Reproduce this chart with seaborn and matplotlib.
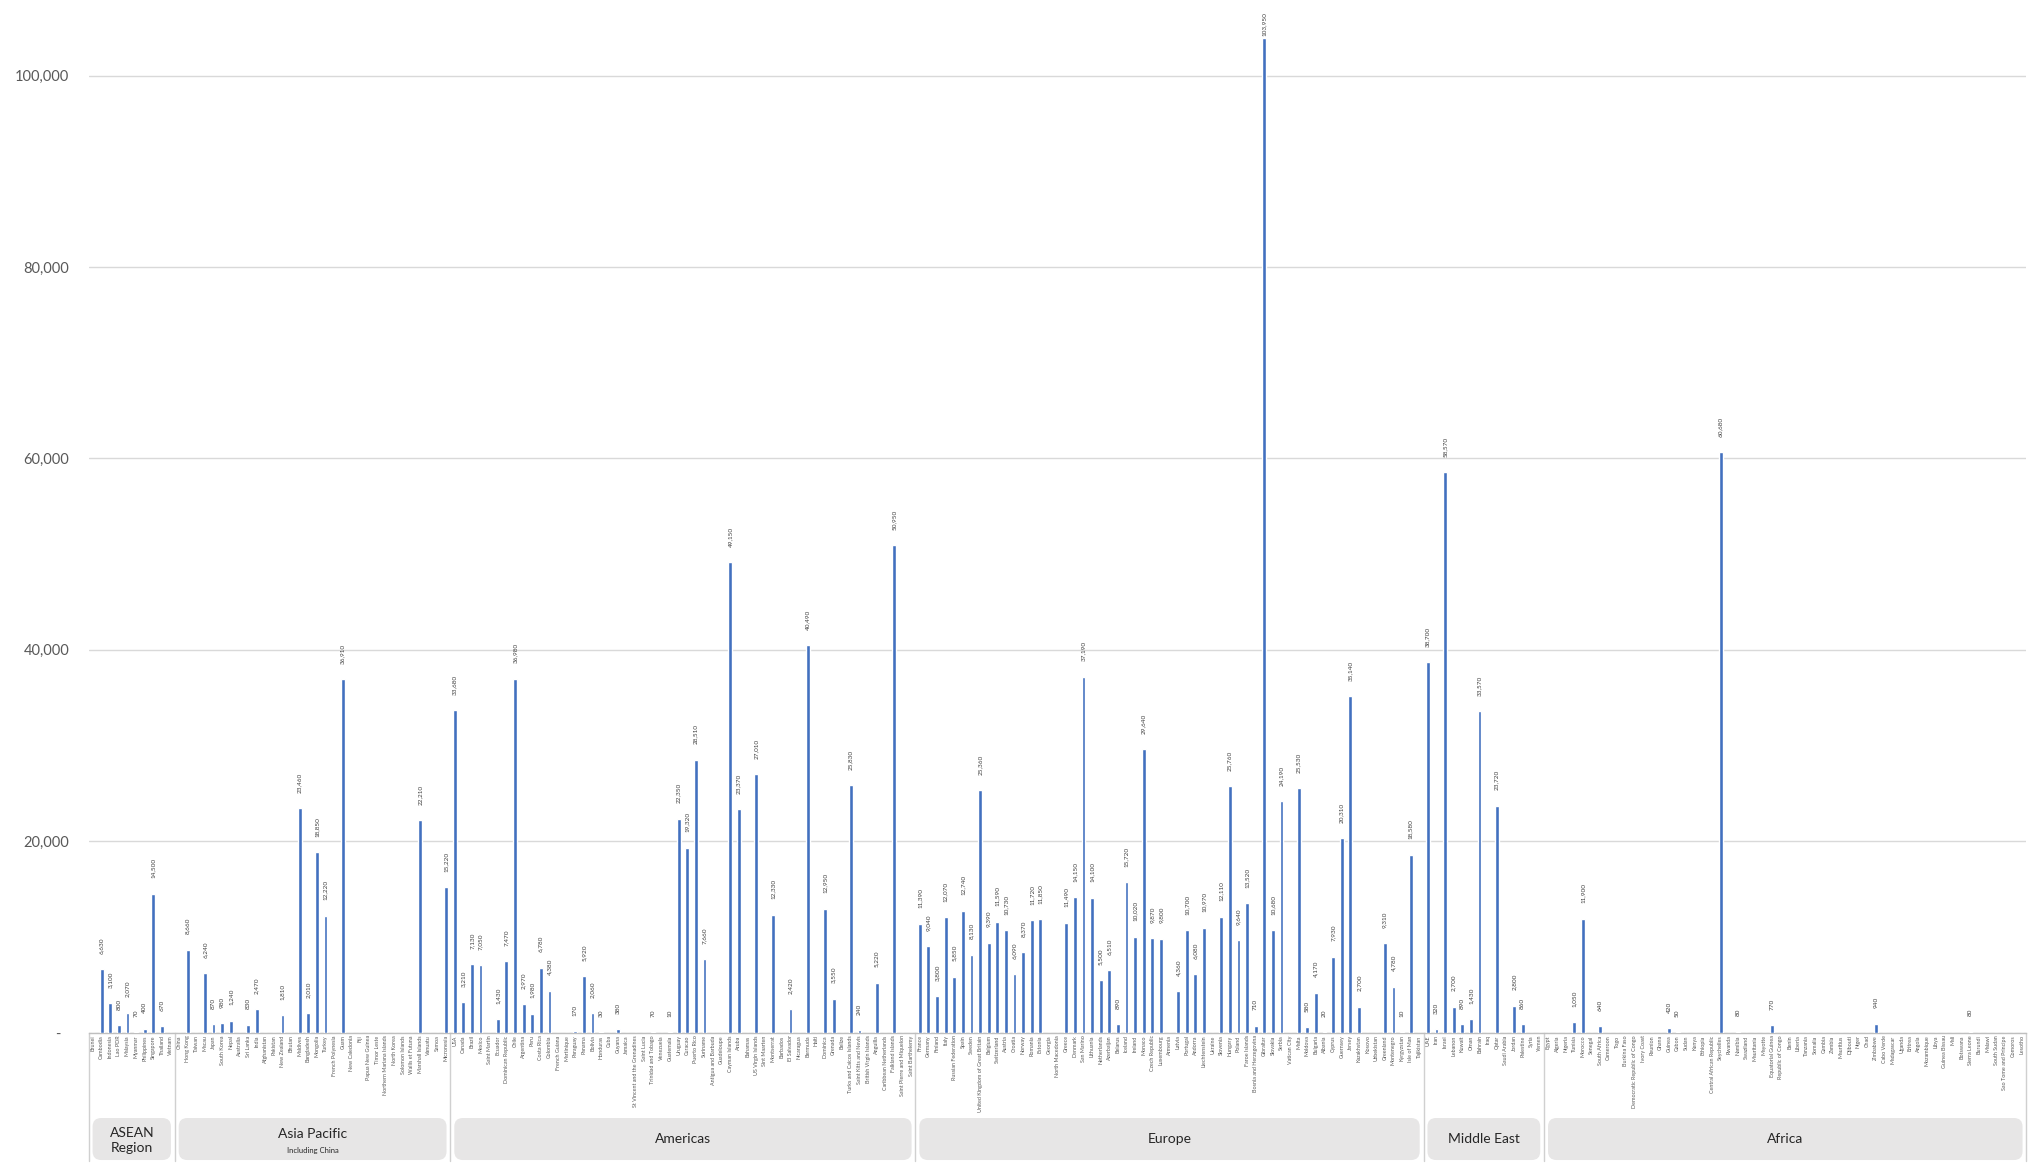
import pandas as pd
import matplotlib.pyplot as plt
import matplotlib.transforms as mtransforms
from matplotlib.patches import FancyBboxPatch
import seaborn as sns

sns.set_theme(style="white")
plt.rcParams['font.family'] = ['Lato', 'DejaVu Sans']

# Data (0 = no value shown)
asean_countries = ["Brunei", "Cambodia", "Indonesia", "Lao PDR", "Malaysia", "Myanmar",
                   "Philippines", "Singapore", "Thailand", "Vietnam"]
asean_values = [0, 6630, 3100, 800, 2070, 70, 400, 14500, 670, 0]

asia_countries = ["China", "Hong Kong", "Taiwan", "Macau", "Japan", "South Korea", "Nepal",
                  "Australia", "Sri Lanka", "India", "Afghanistan", "Pakistan", "New Zealand",
                  "Bhutan", "Maldives", "Bangladesh", "Mongolia", "Turkey", "French Polynesia",
                  "Guam", "New Caledonia", "Fiji", "Papua New Guinea", "Timor Leste",
                  "Northern Mariana Islands", "North Korea", "Solomon Islands", "Wallis et Futuna",
                  "Marshall Islands", "Vanuatu", "Samoa", "Micronesia"]
asia_values = [0, 8660, 0, 6240, 870, 980, 1240, 0, 830, 2470, 0, 0, 1810, 0, 23460, 2010,
               18850, 12220, 0, 36910, 0, 0, 0, 0, 0, 0, 0, 0, 22210, 0, 0, 15220]

americas_countries = ["USA", "Canada", "Brazil", "Mexico", "Saint Martin", "Ecuador",
                      "Dominican Republic", "Chile", "Argentina", "Peru", "Costa Rica", "Colombia",
                      "French Guiana", "Martinique", "Paraguay", "Panama", "Bolivia", "Honduras",
                      "Cuba", "Guyana", "Jamaica", "St Vincent and the Grenadines", "Saint Lucia",
                      "Trinidad and Tobago", "Venezuela", "Guatemala", "Uruguay", "Curacao",
                      "Puerto Rico", "Suriname", "Antigua and Barbuda", "Guadeloupe",
                      "Cayman Islands", "Aruba", "Bahamas", "US Virgin Islands", "Sint Maarten",
                      "Montserrat", "Barbados", "El Salvador", "Nicaragua", "Bermuda", "Haiti",
                      "Dominica", "Grenada", "Belize", "Turks and Caicos Islands",
                      "Saint Kitts and Nevis", "British Virgin Islands", "Anguilla",
                      "Caribbean Netherlands", "Falkland Islands", "Saint Pierre and Miquelon",
                      "Saint Barthelemy"]
americas_values = [33680, 3210, 7130, 7050, 0, 1430, 7470, 36980, 2970, 1980, 6780, 4380,
                   0, 0, 170, 5920, 2060, 30, 0, 380, 0, 0, 0, 70, 0, 10, 22350, 19320,
                   28510, 7660, 0, 0, 49150, 23370, 0, 27010, 0, 12330, 0, 2420, 0, 40490, 0,
                   12950, 3550, 0, 25830, 240, 0, 5220, 0, 50950, 0, 0]

europe_countries = ["France", "Germany", "Finland", "Italy", "Russian Federation", "Spain",
                    "Sweden", "United Kingdom of Great Britain", "Belgium", "Switzerland",
                    "Austria", "Croatia", "Norway", "Romania", "Estonia", "Georgia",
                    "North Macedonia", "Greece", "Denmark", "San Marino", "Lithuania",
                    "Netherlands", "Azerbaijan", "Belarus", "Iceland", "Ireland", "Monaco",
                    "Czech Republic", "Luxembourg", "Armenia", "Latvia", "Portugal", "Andorra",
                    "Liechtenstein", "Ukraine", "Slovenia", "Hungary", "Poland", "Faroe Islands",
                    "Bosnia and Herzegovina", "Gibraltar", "Slovakia", "Serbia", "Vatican City",
                    "Malta", "Moldova", "Bulgaria", "Albania", "Cyprus", "Guernsey", "Jersey",
                    "Kazakhstan", "Kosovo", "Uzbekistan", "Greenland", "Montenegro",
                    "Kyrgyzstan", "Isle of Man", "Tajikistan"]
europe_values = [11390, 9040, 3800, 12070, 5850, 12740, 8130, 25360, 9390, 11590, 10730,
                 6090, 8370, 11720, 11850, 0, 0, 11490, 14150, 37190, 14100, 5500, 6510, 890,
                 15720, 10020, 29640, 9870, 9800, 0, 4360, 10700, 6080, 10970, 0, 12110,
                 25760, 9640, 13520, 710, 103950, 10680, 24190, 0, 25530, 580, 4170, 20,
                 7930, 20310, 35140, 2700, 0, 0, 9310, 4780, 10, 18580, 0]

mideast_countries = ["UAE", "Iran", "Israel", "Lebanon", "Kuwait", "Oman", "Bahrain", "Iraq",
                     "Qatar", "Saudi Arabia", "Jordan", "Palestine", "Syria", "Yemen"]
mideast_values = [38700, 320, 58570, 2700, 890, 1430, 33570, 0, 23720, 0, 2800, 860, 0, 0]

africa_countries = ["Egypt", "Algeria", "Nigeria", "Tunisia", "Morocco", "Senegal",
                    "South Africa", "Cameroon", "Togo", "Burkina Faso",
                    "Democratic Republic of Congo", "Ivory Coast", "Reunion", "Ghana", "Guinea",
                    "Gabon", "Sudan", "Kenya", "Ethiopia", "Central African Republic",
                    "Seychelles", "Rwanda", "Namibia", "Swaziland", "Mauritania", "Mayotte",
                    "Equatorial Guinea", "Republic of Congo", "Benin", "Liberia", "Tanzania",
                    "Somalia", "Gambia", "Zambia", "Mauritius", "Djibouti", "Niger", "Chad",
                    "Zimbabwe", "Cabo Verde", "Madagascar", "Uganda", "Eritrea", "Angola",
                    "Mozambique", "Libya", "Guinea Bissau", "Mali", "Botswana", "Sierra Leone",
                    "Burundi", "Malawi", "South Sudan", "Sao Tome and Principe", "Comoros",
                    "Lesotho"]
africa_values = [0, 0, 0, 1050, 11900, 0, 640, 0, 0, 0, 0, 0, 0, 0, 420, 50, 0, 0, 0, 0,
                 60680, 0, 80, 0, 0, 0, 770, 0, 0, 0, 0, 0, 0, 0, 0, 0, 0, 0, 940, 0, 0, 0,
                 0, 0, 0, 0, 0, 0, 0, 80, 0, 0, 0, 0, 0, 0]

region_names = ["ASEAN", "Asia Pacific", "Americas", "Europe", "Middle East", "Africa"]
region_countries = [asean_countries, asia_countries, americas_countries, europe_countries,
                    mideast_countries, africa_countries]
region_values = [asean_values, asia_values, americas_values, europe_values, mideast_values,
                 africa_values]

rows = []
for name, countries, values in zip(region_names, region_countries, region_values):
    for c, v in zip(countries, values):
        rows.append({"region": name, "country": c, "value": v})
df = pd.DataFrame(rows)
n = len(df)

BLUE = "#4270BF"
GREY_TXT = "#595959"
YMAX = 107900

fig = plt.figure(figsize=(20.44, 11.68), dpi=100)
ax = fig.add_axes([0.0434, 0.116, 0.9480, 0.884])

sns.barplot(data=df, x="country", y="value", color=BLUE, saturation=1, width=0.44,
            errorbar=None, ax=ax, zorder=3)

# value labels (the tallest one is pushed down to stay inside the chart)
for i, v in enumerate(df["value"]):
    if v > 0:
        off = 11 if v < 100000 else 1
        ax.annotate(f"{v:,}", (i, v), xytext=(0, off), textcoords="offset points",
                    rotation=90, ha="center", va="bottom", fontsize=4.6, color="#404040",
                    annotation_clip=False)

ax.set_xlim(-0.5, n - 0.5)
ax.set_ylim(0, YMAX)
yt = [0, 20000, 40000, 60000, 80000, 100000]
ax.set_yticks(yt)
ax.set_yticklabels(["-  "] + [f"{t:,}" for t in yt[1:]], fontsize=10.5, color=GREY_TXT)
ax.tick_params(axis="y", length=0, pad=14)
ax.set_xticks(range(n))
ax.set_xticklabels(df["country"], rotation=90, fontsize=3.9, color=GREY_TXT)
ax.tick_params(axis="x", length=0, pad=2)
ax.set_xlabel("")
ax.set_ylabel("")

ax.yaxis.grid(True, color="#d9d9d9", lw=1)
ax.set_axisbelow(True)
for s in ["top", "right", "left"]:
    ax.spines[s].set_visible(False)
ax.spines["bottom"].set_color("#bfbfbf")
ax.spines["bottom"].set_linewidth(1)

# region boxes under the axis
trans = mtransforms.blended_transform_factory(ax.transData, ax.transAxes)
sizes = [len(c) for c in region_countries]
edges = [-0.5]
for s in sizes:
    edges.append(edges[-1] + s)

for b in edges:
    ax.plot([b, b], [0, -0.124], transform=trans, color="#d0d0d0", lw=1, clip_on=False)

box_y0, box_h = -0.1235, 0.0407
for k, name in enumerate(region_names):
    left, right = edges[k] + 0.45, edges[k + 1] - 0.45
    box = FancyBboxPatch((left, box_y0), right - left, box_h,
                         boxstyle="round,pad=0,rounding_size=1.0", mutation_aspect=0.0083,
                         transform=trans, facecolor="#e7e6e6", edgecolor="none", clip_on=False)
    ax.add_patch(box)
    mid = (edges[k] + edges[k + 1]) / 2
    if name == "ASEAN":
        ax.text(mid, -0.1045, "ASEAN\nRegion", transform=trans, ha="center", va="center",
                fontsize=10, color="#262626", linespacing=1.25)
    elif name == "Asia Pacific":
        ax.text(mid, -0.0985, name, transform=trans, ha="center", va="center",
                fontsize=10, color="#262626")
        ax.text(mid, -0.1145, "Including China", transform=trans, ha="center", va="center",
                fontsize=5.5, color="#262626")
    else:
        ax.text(mid, -0.1035, name, transform=trans, ha="center", va="center",
                fontsize=10, color="#262626")

fig.savefig("out.png", dpi=100)
